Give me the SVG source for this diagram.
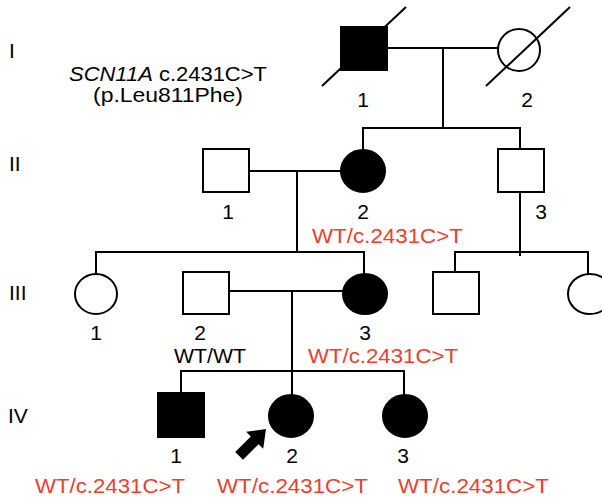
<svg xmlns="http://www.w3.org/2000/svg" width="602" height="498" viewBox="0 0 602 498">
<style>
.ln{stroke:#000;stroke-width:2;fill:none}
.open{fill:#fff;stroke:#000;stroke-width:2}
.aff{fill:#000;stroke:#000;stroke-width:2}
.t{font-family:"Liberation Sans",Arial,sans-serif;font-size:21px;fill:#000}
.n{text-anchor:middle}
.red{fill:#e8412f}
</style>
<rect width="602" height="498" fill="#fff"/>
<g id="connectors">
<line class="ln" x1="387" y1="48" x2="498" y2="48"/>
<line class="ln" x1="443" y1="48" x2="443" y2="128"/>
<line class="ln" x1="363" y1="128" x2="520" y2="128"/>
<line class="ln" x1="363" y1="127" x2="363" y2="150"/>
<line class="ln" x1="520" y1="127" x2="520" y2="149"/>
<line class="ln" x1="249" y1="171" x2="341" y2="171"/>
<line class="ln" x1="297" y1="171" x2="297" y2="252"/>
<line class="ln" x1="96" y1="252" x2="364" y2="252"/>
<line class="ln" x1="96" y1="251" x2="96" y2="274"/>
<line class="ln" x1="364" y1="251" x2="364" y2="274"/>
<line class="ln" x1="520" y1="192" x2="520" y2="256"/>
<line class="ln" x1="455" y1="252" x2="588" y2="252"/>
<line class="ln" x1="455" y1="251" x2="455" y2="272"/>
<line class="ln" x1="588" y1="251" x2="588" y2="274"/>
<line class="ln" x1="229" y1="291" x2="343" y2="291"/>
<line class="ln" x1="292" y1="291" x2="292" y2="395"/>
<line class="ln" x1="181" y1="371" x2="404" y2="371"/>
<line class="ln" x1="181" y1="370" x2="181" y2="393"/>
<line class="ln" x1="404" y1="370" x2="404" y2="395"/>
</g>
<g id="generation-labels" class="t">
<text x="9" y="58">I</text>
<text x="9" y="171">II</text>
<text x="9" y="300">III</text>
<text x="8" y="423">IV</text>
</g>
<g id="variant-label" class="t">
<text x="168" y="81" class="n" textLength="198" lengthAdjust="spacingAndGlyphs"><tspan font-style="italic">SCN11A</tspan> c.2431C&gt;T</text>
<text x="168" y="102" class="n" textLength="150" lengthAdjust="spacingAndGlyphs">(p.Leu811Phe)</text>
</g>
<g id="I-1">
<rect class="aff" x="341" y="27" width="46" height="43"/>
<line class="ln" x1="322" y1="86" x2="406" y2="7"/>
<text class="t n" x="363" y="107">1</text>
</g>
<g id="I-2">
<ellipse class="open" cx="519" cy="50" rx="21" ry="21"/>
<line class="ln" x1="486" y1="86" x2="570" y2="7"/>
<text class="t n" x="527" y="107">2</text>
</g>
<g id="II-1">
<rect class="open" x="203" y="149" width="46" height="43"/>
<text class="t n" x="228" y="219">1</text>
</g>
<g id="II-2">
<ellipse class="aff" cx="363" cy="171" rx="22" ry="21"/>
<text class="t n" x="363" y="219">2</text>
<text class="t red" x="312" y="243" textLength="151" lengthAdjust="spacingAndGlyphs">WT/c.2431C&gt;T</text>
</g>
<g id="II-3">
<rect class="open" x="498" y="149" width="46" height="43"/>
<text class="t n" x="541" y="219">3</text>
</g>
<g id="III-1">
<ellipse class="open" cx="96" cy="294" rx="21" ry="20"/>
<text class="t n" x="96" y="340">1</text>
</g>
<g id="III-2">
<rect class="open" x="183" y="272" width="46" height="42"/>
<text class="t n" x="200" y="340">2</text>
<text class="t" x="174" y="363" textLength="72" lengthAdjust="spacingAndGlyphs">WT/WT</text>
</g>
<g id="III-3">
<ellipse class="aff" cx="365" cy="294" rx="22" ry="20"/>
<text class="t n" x="365" y="340">3</text>
<text class="t red" x="308" y="363" textLength="150" lengthAdjust="spacingAndGlyphs">WT/c.2431C&gt;T</text>
</g>
<g id="III-4">
<rect class="open" x="433" y="272" width="46" height="42"/>
</g>
<g id="III-5">
<ellipse class="open" cx="590" cy="294" rx="22" ry="20"/>
</g>
<g id="IV-1">
<rect class="aff" x="158" y="393" width="46" height="44"/>
<text class="t n" x="176" y="463">1</text>
<text class="t red" x="35" y="493" textLength="150" lengthAdjust="spacingAndGlyphs">WT/c.2431C&gt;T</text>
</g>
<g id="IV-2">
<ellipse class="aff" cx="291" cy="416" rx="22" ry="21"/>
<polygon points="266,429 263.2,448.8 258.6,444.2 243,459.8 235.2,452 250.8,436.4 246.2,431.8" fill="#000"/>
<text class="t n" x="292" y="463">2</text>
<text class="t red" x="217" y="493" textLength="151" lengthAdjust="spacingAndGlyphs">WT/c.2431C&gt;T</text>
</g>
<g id="IV-3">
<ellipse class="aff" cx="405" cy="416" rx="22" ry="21"/>
<text class="t n" x="403" y="463">3</text>
<text class="t red" x="398" y="493" textLength="151" lengthAdjust="spacingAndGlyphs">WT/c.2431C&gt;T</text>
</g>
</svg>
